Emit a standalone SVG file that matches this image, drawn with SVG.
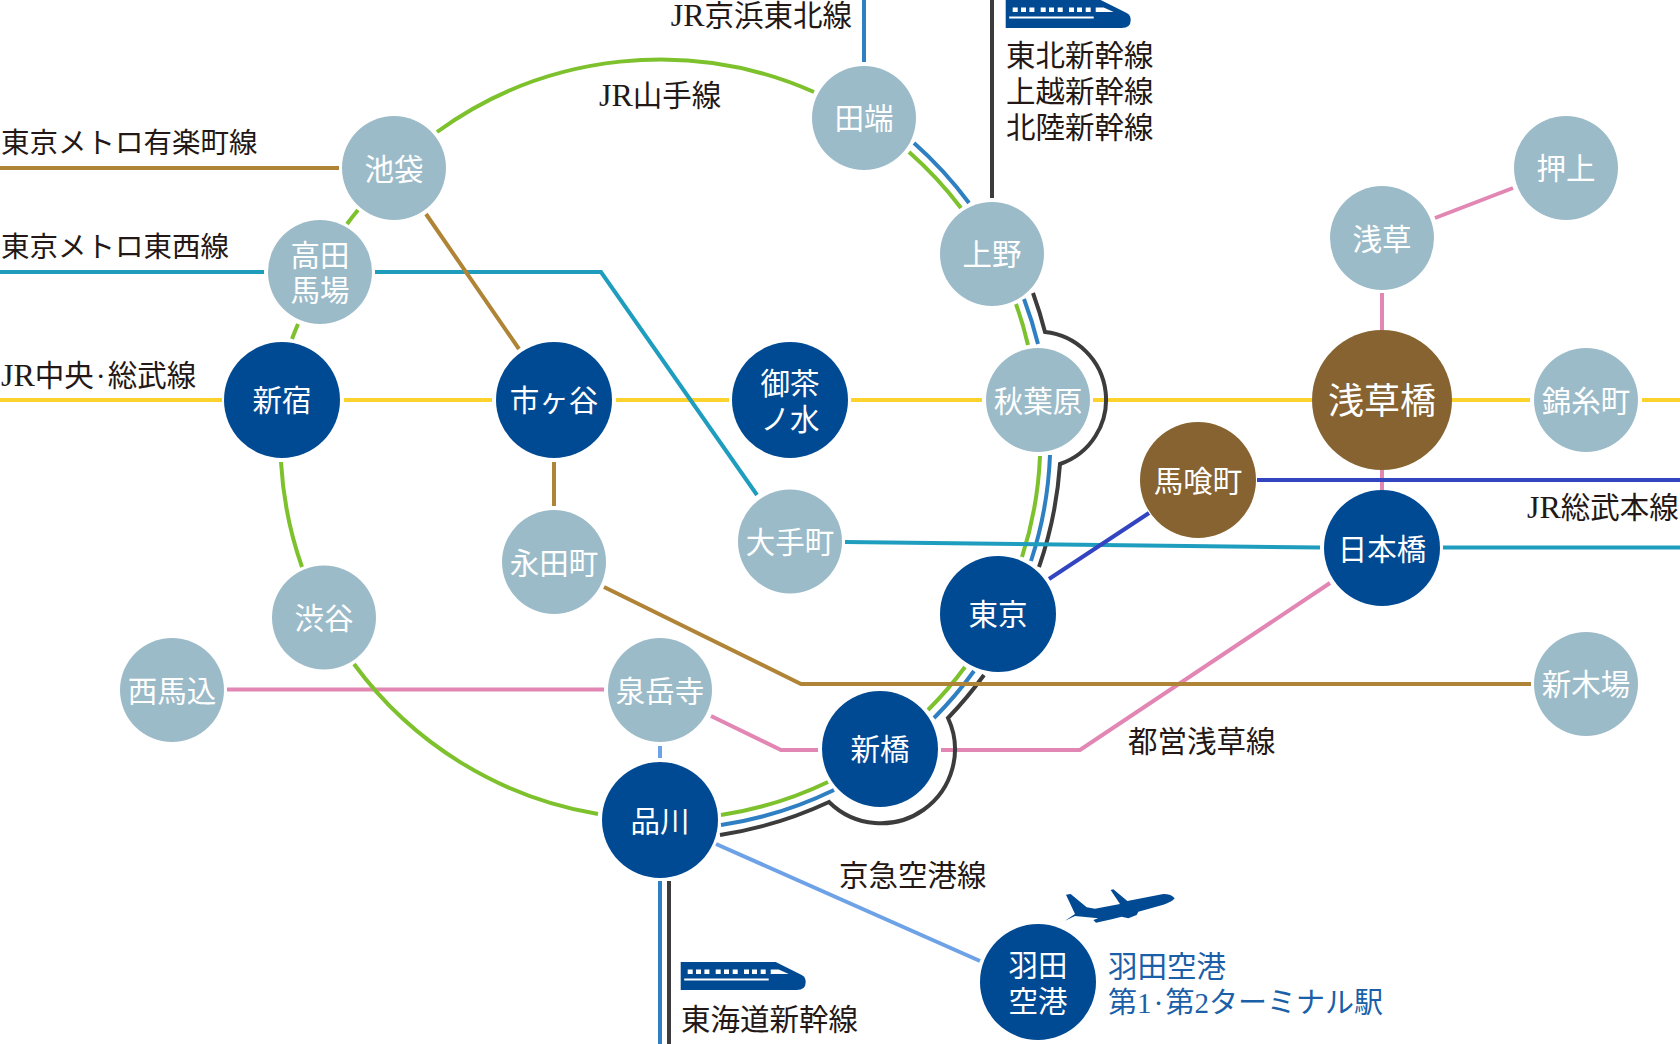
<svg xmlns="http://www.w3.org/2000/svg" width="1680" height="1044" viewBox="0 0 1680 1044">
<style>
text{font-family:"Liberation Serif","Noto Sans CJK JP",serif;font-size:29.5px;fill:#231815}
.j{font-size:32px}
.m{font-size:28.5px}
.dot{font-size:14px;font-weight:700}
.n text{fill:#fff;text-anchor:middle}
.l{fill:#9cbbc9}.d{fill:#004a94}.b{fill:#866331}
#connectors path{fill:none;stroke-width:4}
.gr{stroke:#7dc12d}.bl{stroke:#2f80c3}.bk{stroke:#3c3c3c}.ye{stroke:#fcd22c}.te{stroke:#1f9dbe}.br{stroke:#b08436}.pi{stroke:#e286b4}.so{stroke:#3344c0}.ke{stroke:#6ea2e6}
.ic{fill:#004a94}
.w{fill:#fff}
</style>
<defs>
<g id="train">
<path class="ic" d="M0,0H95L121,13Q125,15 125,20Q125,28 116,28H0Z"/>
<path class="w" d="M7,7.5h5v4.5h-5zM15.3,7.5h5v4.5h-5zM23.7,7.5h5v4.5h-5zM35,7.5h5v4.5h-5zM43.3,7.5h5v4.5h-5zM52,7.5h5v4.5h-5zM63.3,7.5h5v4.5h-5zM71.3,7.5h5v4.5h-5zM80,7.5h5v4.5h-5zM90,7.5h8l10,4.5h-18zM3.5,16.5H88V18.5H3.5z"/>
</g>
</defs>
<g id="connectors">
<path class="pi" d="M227,689.500H604M711,716L781,750H818M941,750H1080L1330,583M1382,293V330M1382,470V490M1435,218L1513,188"/>
<path class="ye" d="M0,400H222M344,400H492M616,400H729M851,400H982M1093,400H1312M1452,400H1530M1642,400H1680"/>
<path class="gr" d="M598,814A380,380 0 0 1 354,664M302,567A380,380 0 0 1 281,462M292,339A380,380 0 0 1 298,324M347,224A380,380 0 0 1 358,210M437,132A380,380 0 0 1 814,92M909,152A380,380 0 0 1 961,208M1016,304A380,380 0 0 1 1028,345M1040,456A380,380 0 0 1 1022,557M965,667A380,380 0 0 1 928,710M828,782A380,380 0 0 1 721,815"/>
<path class="bl" d="M864,0V62M914,143A390,390 0 0 1 969,203M1024,299A390,390 0 0 1 1038,344M1050,455A390,390 0 0 1 1031,561M974,671A390,390 0 0 1 934,718M834,790A390,390 0 0 1 721,825M660,881V1044"/>
<path class="bk" d="M992,0V198M1033,293A400,400 0 0 1 1045,332A68,68 0 0 1 1060,464A400,400 0 0 1 1039,567M984,675A400,400 0 0 1 948,718A74,74 0 0 1 829,802A400,400 0 0 1 720,835M669,881V1044"/>
<path class="te" d="M0,272H264M375,272H601L757,495M845,542L1320,547.500M1443,547.500H1680"/>
<path class="so" d="M1257,480H1680M1049,579L1149,513"/>
<path class="ke" d="M660,746V758M716,844L980,961"/>
<path class="br" d="M0,168H339M426,214L519,349M554,462V506M604,587L801,684H1531"/>
</g>
<g id="n-tabata" class="n"><circle class="l" cx="864" cy="118" r="52"/><text x="864" y="129">田端</text></g>
<g id="n-ikebukuro" class="n"><circle class="l" cx="394" cy="168" r="52"/><text x="394" y="180">池袋</text></g>
<g id="n-takadanobaba" class="n"><circle class="l" cx="320" cy="272" r="52"/><text x="320" y="266">高田</text><text x="320" y="301">馬場</text></g>
<g id="n-ueno" class="n"><circle class="l" cx="992" cy="254" r="52"/><text x="992" y="265">上野</text></g>
<g id="n-oshiage" class="n"><circle class="l" cx="1566" cy="168" r="52"/><text x="1566" y="179">押上</text></g>
<g id="n-asakusa" class="n"><circle class="l" cx="1382" cy="238" r="52"/><text x="1382" y="250">浅草</text></g>
<g id="n-shinjuku" class="n"><circle class="d" cx="282" cy="400" r="58"/><text x="282" y="411">新宿</text></g>
<g id="n-ichigaya" class="n"><circle class="d" cx="554" cy="400" r="58"/><text x="554" y="411">市ヶ谷</text></g>
<g id="n-ochanomizu" class="n"><circle class="d" cx="790" cy="400" r="58"/><text x="790" y="394">御茶</text><text x="790" y="430">ノ水</text></g>
<g id="n-akihabara" class="n"><circle class="l" cx="1038" cy="400" r="52"/><text x="1038" y="412">秋葉原</text></g>
<g id="n-asakusabashi" class="n"><circle class="b" cx="1382" cy="400" r="70"/><text x="1382" y="414" style="font-size:36px">浅草橋</text></g>
<g id="n-kinshicho" class="n"><circle class="l" cx="1586" cy="400" r="52"/><text x="1586" y="412">錦糸町</text></g>
<g id="n-bakurocho" class="n"><circle class="b" cx="1198" cy="480" r="58"/><text x="1198" y="492">馬喰町</text></g>
<g id="n-nihombashi" class="n"><circle class="d" cx="1382" cy="548" r="58"/><text x="1382" y="560">日本橋</text></g>
<g id="n-otemachi" class="n"><circle class="l" cx="790" cy="541.500" r="52"/><text x="790" y="553">大手町</text></g>
<g id="n-nagatacho" class="n"><circle class="l" cx="554" cy="562" r="52"/><text x="554" y="574">永田町</text></g>
<g id="n-shibuya" class="n"><circle class="l" cx="324" cy="617.500" r="52"/><text x="324" y="629">渋谷</text></g>
<g id="n-tokyo" class="n"><circle class="d" cx="998" cy="614" r="58"/><text x="998" y="625">東京</text></g>
<g id="n-nishimagome" class="n"><circle class="l" cx="172" cy="690" r="52"/><text x="172" y="702">西馬込</text></g>
<g id="n-sengakuji" class="n"><circle class="l" cx="660" cy="690" r="52"/><text x="660" y="702">泉岳寺</text></g>
<g id="n-shimbashi" class="n"><circle class="d" cx="880" cy="749" r="58"/><text x="880" y="760">新橋</text></g>
<g id="n-shinagawa" class="n"><circle class="d" cx="660" cy="820" r="58"/><text x="660" y="832">品川</text></g>
<g id="n-haneda" class="n"><circle class="d" cx="1038" cy="982" r="58"/><text x="1038" y="976">羽田</text><text x="1038" y="1012">空港</text></g>
<g id="n-shinkiba" class="n"><circle class="l" cx="1586" cy="684" r="52"/><text x="1586" y="695">新木場</text></g>
<g id="labels">
<text x="852" y="26" text-anchor="end"><tspan class="j">JR</tspan>京浜東北線</text>
<text x="1006" y="66">東北新幹線</text>
<text x="1006" y="102">上越新幹線</text>
<text x="1006" y="138">北陸新幹線</text>
<text x="599" y="106"><tspan class="j">JR</tspan>山手線</text>
<text x="1" y="153" class="m">東京メトロ有楽町線</text>
<text x="1" y="257" class="m">東京メトロ東西線</text>
<text x="1" y="386"><tspan class="j">JR</tspan>中央<tspan class="dot" dy="-5">・</tspan><tspan dy="5">総武線</tspan></text>
<text x="1527" y="518"><tspan class="j">JR</tspan>総武本線</text>
<text x="1128" y="752">都営浅草線</text>
<text x="839" y="886">京急空港線</text>
<text x="681" y="1030">東海道新幹線</text>
<text x="1108" y="977" style="fill:#1b5fa8">羽田空港</text>
<text x="1108" y="1013" style="fill:#1b5fa8;font-size:29px">第1<tspan class="dot" dy="-5">・</tspan><tspan dy="5">第2ターミナル駅</tspan></text>
</g>
<use href="#train" x="1005.700"/>
<use href="#train" x="680.700" y="962"/>
<path id="airplane" class="ic" transform="translate(1040,870) scale(.3333)" d="M78,74L92,72L140,112L165,116L240,102L212,60L220,58L262,93L370,72Q395,72 404,85Q395,97 370,104L295,125L290,135L265,145L245,140L215,148L168,158L160,150L175,145L105,138L75,152L105,132Z"/>
</svg>
